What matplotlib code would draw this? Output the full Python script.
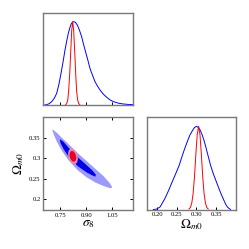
import numpy as np
import matplotlib
matplotlib.use("Agg")
import matplotlib.pyplot as plt
from matplotlib.patches import Polygon

plt.rcParams['mathtext.fontset'] = 'stix'
plt.rcParams['font.family'] = ['Liberation Serif', 'DejaVu Serif']

# ---- 1D marginal: sigma_8 ----
s8_blue_x = [0.660, 0.671, 0.685, 0.700, 0.715, 0.729, 0.742, 0.754, 0.766, 0.777,
             0.787, 0.796, 0.804, 0.812, 0.820, 0.829, 0.838, 0.848, 0.860, 0.873,
             0.885, 0.898, 0.910, 0.921, 0.935, 0.950, 0.965, 0.979, 0.998, 1.018,
             1.036, 1.056, 1.085, 1.114, 1.140, 1.168]
s8_blue_y = [0.0, 0.004, 0.015, 0.04, 0.08, 0.14, 0.25, 0.38, 0.52, 0.66,
             0.77, 0.86, 0.92, 0.97, 0.995, 1.0, 0.99, 0.96, 0.90, 0.82,
             0.72, 0.62, 0.53, 0.44, 0.36, 0.28, 0.225, 0.18, 0.13, 0.092,
             0.062, 0.04, 0.022, 0.012, 0.007, 0.004]
s8_red_x = [0.781, 0.787, 0.793, 0.798, 0.804, 0.810, 0.8156, 0.8213, 0.827, 0.833,
            0.839, 0.844, 0.850, 0.856, 0.862]
s8_red_y = [0.004, 0.018, 0.061, 0.168, 0.366, 0.640, 0.894, 1.0, 0.894, 0.640,
            0.366, 0.168, 0.061, 0.018, 0.004]

# ---- 1D marginal: Omega_m0 ----
om_blue_x = [0.190, 0.198, 0.207, 0.2195, 0.229, 0.238, 0.247, 0.256, 0.263, 0.270,
             0.277, 0.283, 0.290, 0.295, 0.300, 0.305, 0.310, 0.315, 0.320, 0.325,
             0.330, 0.336, 0.343, 0.351, 0.360, 0.368, 0.375, 0.380, 0.387]
om_blue_y = [0.0, 0.004, 0.03, 0.132, 0.23, 0.332, 0.43, 0.532, 0.635, 0.732,
             0.82, 0.892, 0.95, 0.985, 1.0, 0.985, 0.95, 0.892, 0.82, 0.732,
             0.64, 0.532, 0.43, 0.332, 0.22, 0.132, 0.06, 0.025, 0.0]
om_red_x = [0.281, 0.2845, 0.288, 0.2915, 0.295, 0.2985, 0.302, 0.3055, 0.309, 0.3125,
            0.316, 0.3195, 0.323, 0.3265, 0.330]
om_red_y = [0.006, 0.024, 0.076, 0.192, 0.395, 0.662, 0.902, 1.0, 0.902, 0.662,
            0.395, 0.192, 0.076, 0.024, 0.006]

# ---- 2D contours (sigma_8, Omega_m0) ----
blue2_s8 = [0.704, 0.715, 0.730, 0.760, 0.800, 0.850, 0.900, 0.950, 1.000, 1.035, 1.048,
            1.046, 1.035, 1.000, 0.950, 0.900, 0.850, 0.800, 0.760, 0.730, 0.715, 0.706]
blue2_om = [0.371, 0.368, 0.363, 0.350, 0.334, 0.313, 0.294, 0.275, 0.256, 0.239, 0.230,
            0.227, 0.227, 0.232, 0.241, 0.254, 0.271, 0.294, 0.318, 0.341, 0.356, 0.366]
blue1_s8 = [0.750, 0.770, 0.800, 0.850, 0.900, 0.935, 0.955,
            0.952, 0.935, 0.900, 0.850, 0.800, 0.770, 0.753, 0.748]
blue1_om = [0.347, 0.340, 0.325, 0.303, 0.284, 0.270, 0.260,
            0.255, 0.258, 0.266, 0.281, 0.303, 0.322, 0.336, 0.343]
red2_s8 = [0.8107, 0.8253, 0.8394, 0.8490, 0.8516, 0.8465, 0.8352, 0.8205, 0.8064, 0.7968,
           0.7942, 0.7993]
red2_om = [0.3246, 0.3235, 0.3174, 0.3080, 0.2978, 0.2896, 0.2855, 0.2866, 0.2927, 0.3020,
           0.3122, 0.3204]
red1_s8 = [0.8142, 0.8241, 0.8337, 0.8402, 0.8420, 0.8385, 0.8308, 0.8208, 0.8112, 0.8047,
           0.8029, 0.8064]
red1_om = [0.3183, 0.3176, 0.3134, 0.3070, 0.3001, 0.2945, 0.2917, 0.2925, 0.2966, 0.3030,
           0.3099, 0.3155]

s8_ticks = [0.75, 0.90, 1.05]
s8_ticklabels = ['0.75', '0.90', '1.05']
om_yticks = [0.20, 0.25, 0.30, 0.35]
om_yticklabels = ['0.2', '0.25', '0.3', '0.35']
om_xticklabels = ['0.20', '0.25', '0.30', '0.35']

s8_lim = (0.652, 1.171)
om_lim = (0.173, 0.401)

fig = plt.figure(figsize=(2.49, 2.49), dpi=100)
ax_top = fig.add_axes([0.174, 0.5783, 0.3614, 0.3707])
ax_2d = fig.add_axes([0.174, 0.1566, 0.3614, 0.3723])
ax_r = fig.add_axes([0.5892, 0.1586, 0.3586, 0.3703])

spine_col = '#7a7a7a'
for ax in (ax_top, ax_2d, ax_r):
    for sp in ax.spines.values():
        sp.set_color(spine_col)
        sp.set_linewidth(1.0)
    ax.tick_params(direction='in', length=2.2, width=0.7, color='black',
                   labelsize=4.8, pad=2.0)

# top marginal
ax_top.plot(s8_blue_x, s8_blue_y, color='blue', lw=0.7)
ax_top.plot(s8_red_x, s8_red_y, color='red', lw=0.7)
ax_top.set_xlim(*s8_lim)
ax_top.set_ylim(0, 1.108)
ax_top.set_xticks(s8_ticks)
ax_top.set_xticklabels([])
ax_top.set_yticks([])

# 2D panel
ax_2d.add_patch(Polygon(np.column_stack([blue2_s8, blue2_om]), closed=True,
                        facecolor='#9a9aff', edgecolor='none'))
ax_2d.add_patch(Polygon(np.column_stack([blue1_s8, blue1_om]), closed=True,
                        facecolor='#0000e6', edgecolor='none'))
ax_2d.add_patch(Polygon(np.column_stack([red2_s8, red2_om]), closed=True,
                        facecolor='#f08aa0', edgecolor='none'))
ax_2d.add_patch(Polygon(np.column_stack([red1_s8, red1_om]), closed=True,
                        facecolor='#e6002e', edgecolor='none'))
ax_2d.set_xlim(*s8_lim)
ax_2d.set_ylim(*om_lim)
ax_2d.set_xticks(s8_ticks)
ax_2d.set_xticklabels(s8_ticklabels)
ax_2d.set_yticks(om_yticks)
ax_2d.set_yticklabels(om_yticklabels)
ax_2d.tick_params(top=True, right=True)
ax_2d.set_xlabel(r'$\sigma_8$', fontsize=9.5, labelpad=0)
ax_2d.set_ylabel(r'$\Omega_{m0}$', fontsize=9.5, labelpad=2)

# right marginal
ax_r.plot(om_blue_x, om_blue_y, color='blue', lw=0.7)
ax_r.plot(om_red_x, om_red_y, color='red', lw=0.7)
ax_r.set_xlim(*om_lim)
ax_r.set_ylim(0, 1.108)
ax_r.set_xticks(om_yticks)
ax_r.set_xticklabels(om_xticklabels)
ax_r.set_yticks([])
ax_r.set_xlabel(r'$\Omega_{m0}$', fontsize=9.5, labelpad=0)

fig.savefig('out.png', dpi=100)
